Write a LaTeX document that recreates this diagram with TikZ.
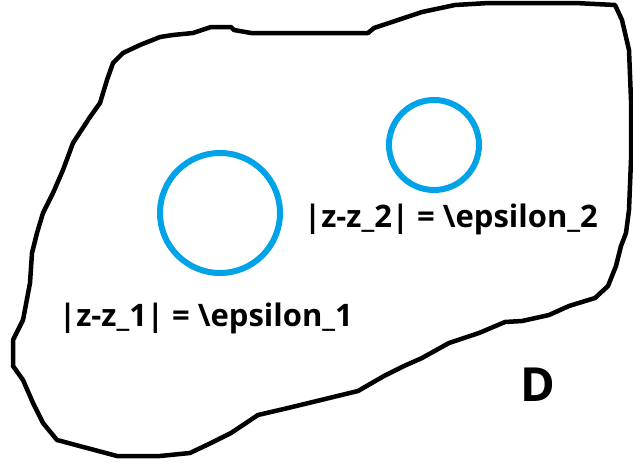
\documentclass[tikz,border=0pt]{standalone}
\usepackage{fontspec}
\setmainfont{Open Sans}
\definecolor{paintblue}{HTML}{00A2E8}
\begin{document}
\begin{tikzpicture}[x=1pt,y=-1pt,
  blob/.style={draw=black,line width=4.5pt,line join=round,line cap=round},
  ring/.style={circle,draw=paintblue,line width=6pt,inner sep=0pt},
  lbl/.style={anchor=base west,inner sep=0pt,font=\fontsize{31}{33}\selectfont\bfseries,text=black}]
\useasboundingbox[fill=white] (0,0) rectangle (633,466);
\draw[blob] (113,63) -- (123,53) -- (140,45) -- (160,37) -- (173,35) -- (193,33) -- (211,27)
  -- (231,27) -- (234,30) -- (251,33) -- (368,33) -- (374,28) -- (398,20) -- (422,12)
  -- (455,5) -- (489,3) -- (575,3) -- (615,5) -- (622,20) -- (629,50) -- (631,100)
  -- (631,160) -- (629,210) -- (626,233) -- (621,246) -- (616,266) -- (608,286)
  -- (595,298) -- (569,306) -- (549,315) -- (522,321) -- (505,322) -- (479,333)
  -- (449,343) -- (422,358) -- (404,366) -- (384,376) -- (358,391) -- (321,400)
  -- (288,408) -- (258,415) -- (231,433) -- (211,443) -- (190,453) -- (160,456)
  -- (117,456) -- (87,448) -- (57,440) -- (43,423) -- (33,403) -- (23,380)
  -- (13,366) -- (13,340) -- (23,320) -- (30,283) -- (32,253) -- (37,233)
  -- (43,213) -- (53,193) -- (63,170) -- (73,143) -- (90,117) -- (100,103)
  -- (107,80) -- cycle;
\node[ring,minimum size=120pt] (c1) at (220,213) {};
\node[ring,minimum size=90pt] (c2) at (434,145) {};
\node[lbl] (t1) at (59,326) {|z-z\_1| = \textbackslash epsilon\_1};
\node[lbl] (t2) at (304,227) {|z-z\_2| = \textbackslash epsilon\_2};
\node[lbl,font=\fontsize{47}{49}\selectfont\bfseries] (d) at (520,401) {D};
\end{tikzpicture}
\end{document}
